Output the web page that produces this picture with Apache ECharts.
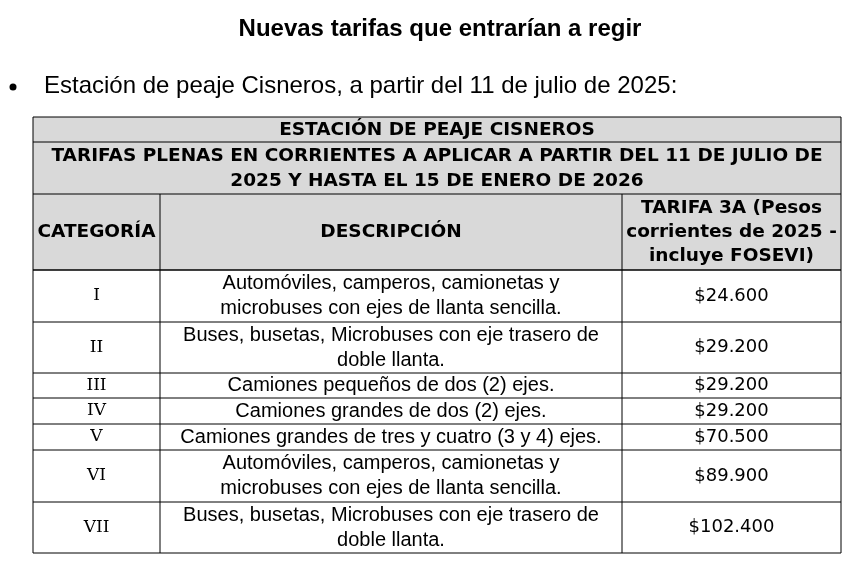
<!DOCTYPE html>
<html><head><meta charset="utf-8">
<script src="https://cdn.jsdelivr.net/npm/echarts@6/dist/echarts.min.js"></script>
<style>html,body{margin:0;padding:0;background:#fff}#c{width:853px;height:561px}</style>
</head><body><div id="c"></div>
<script>
const title = "Nuevas tarifas que entrarían a regir";
const bulletText = "Estación de peaje Cisneros, a partir del 11 de julio de 2025:";
const header1 = "ESTACIÓN DE PEAJE CISNEROS";
const header2 = "TARIFAS PLENAS EN CORRIENTES A APLICAR A PARTIR DEL 11 DE JULIO DE\n2025 Y HASTA EL 15 DE ENERO DE 2026";
const columns = ["CATEGORÍA", "DESCRIPCIÓN", "TARIFA 3A (Pesos\ncorrientes de 2025 -\nincluye FOSEVI)"];
const categories = ["I","II","III","IV","V","VI","VII"];
const descriptions = [
  "Automóviles, camperos, camionetas y\nmicrobuses con ejes de llanta sencilla.",
  "Buses, busetas, Microbuses con eje trasero de\ndoble llanta.",
  "Camiones pequeños de dos (2) ejes.",
  "Camiones grandes de dos (2) ejes.",
  "Camiones grandes de tres y cuatro (3 y 4) ejes.",
  "Automóviles, camperos, camionetas y\nmicrobuses con ejes de llanta sencilla.",
  "Buses, busetas, Microbuses con eje trasero de\ndoble llanta."
];
const tarifas = ["$24.600","$29.200","$29.200","$29.200","$70.500","$89.900","$102.400"];

const colX = [33,160,622,841];
const rowY = [270,322,373,398,424,450,502,553];
const hdrY = [117,142,194,270];
const G = [];
const lineStyle = {stroke:'#000', lineWidth:1};
const hdrFont = 'bold 18.5px "DejaVu Sans"';
function cellText(x,y,t,font,lh){
  G.push({type:'text',x:x,y:y,style:{text:t,font:font,fill:'#000',align:'center',verticalAlign:'middle',lineHeight:lh}});
}
G.push({type:'text',x:440,y:29,style:{text:title,font:'bold 24px "Liberation Sans"',fill:'#000',align:'center',verticalAlign:'middle'}});
G.push({type:'circle',shape:{cx:13,cy:87,r:3.5},style:{fill:'#000'}});
G.push({type:'text',x:44,y:86,style:{text:bulletText,font:'24px "Liberation Sans"',fill:'#000',verticalAlign:'middle'}});
G.push({type:'rect',shape:{x:colX[0],y:hdrY[0],width:colX[3]-colX[0],height:hdrY[3]-hdrY[0]},style:{fill:'#d9d9d9'}});
hdrY.concat(rowY).forEach(y=>G.push({type:'line',shape:{x1:colX[0],y1:y,x2:colX[3],y2:y},style:lineStyle}));
[colX[0],colX[3]].forEach(x=>G.push({type:'line',shape:{x1:x,y1:hdrY[0],x2:x,y2:rowY[rowY.length-1]},style:lineStyle}));
[colX[1],colX[2]].forEach(x=>G.push({type:'line',shape:{x1:x,y1:hdrY[2],x2:x,y2:rowY[rowY.length-1]},style:lineStyle}));
const midX = (colX[0]+colX[3])/2;
cellText(midX,(hdrY[0]+hdrY[1])/2+1,header1,hdrFont,24);
cellText(midX,(hdrY[1]+hdrY[2])/2+1,header2,hdrFont,25);
columns.forEach((c,i)=>cellText((colX[i]+colX[i+1])/2,(hdrY[2]+hdrY[3])/2,c,hdrFont,24));
categories.forEach((c,i)=>{
  const cy=(rowY[i]+rowY[i+1])/2;
  cellText((colX[0]+colX[1])/2,cy,c,'17px "DejaVu Serif"',24);
  cellText((colX[1]+colX[2])/2,cy,descriptions[i],'20px "Liberation Sans"',25);
  cellText((colX[2]+colX[3])/2,cy,tarifas[i],'18px "DejaVu Sans"',24);
});
const chart = echarts.init(document.getElementById('c'));
chart.setOption({animation:false,graphic:{elements:G}});
</script></body></html>
